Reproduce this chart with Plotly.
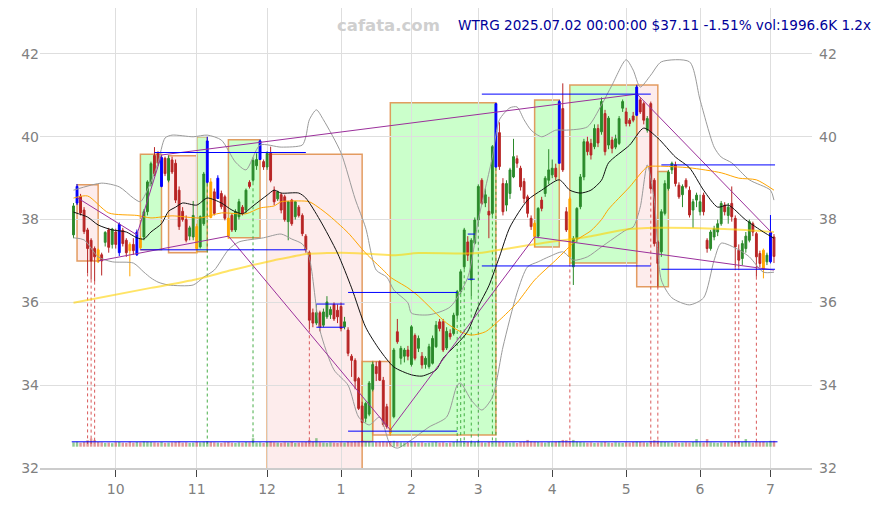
import plotly.graph_objects as go

# ---------------- data ----------------
month_tick_idx = [12, 35, 55, 76, 96, 115, 136, 157, 178, 198]
month_tick_text = ["10", "11", "12", "1", "2", "3", "4", "5", "6", "7"]
price_ticks = [32, 34, 36, 38, 40, 42]

opens = [37.63, 38.40, 38.56, 38.23, 37.75, 37.50, 37.30, 37.27, 37.15, 37.45,
         37.75, 37.40, 37.70, 37.20, 37.74, 37.50, 37.40, 37.40, 37.15, 37.54,
         37.58, 38.19, 38.87, 39.55, 39.60, 38.80, 39.48, 38.95, 39.44, 39.36,
         38.71, 38.20, 38.00, 37.60, 37.58, 37.83, 37.34, 37.90, 38.90, 38.91,
         38.67, 38.51, 38.63, 38.55, 38.03, 38.10, 37.75, 38.07, 38.30, 38.23,
         38.90, 38.95, 39.30, 39.45, 39.40, 39.27, 39.60, 38.71, 38.50, 38.60,
         38.55, 37.95, 38.47, 38.07, 38.30, 38.10, 37.60, 37.20, 35.75, 35.50,
         35.75, 35.45, 35.65, 35.70, 35.95, 35.81, 35.90, 35.41, 35.33, 34.70,
         34.60, 34.16, 33.50, 33.20, 33.30, 33.90, 34.45, 34.57, 34.12, 33.48,
         32.96, 33.24, 35.29, 34.65, 34.70, 34.85, 34.50, 35.20, 34.89, 34.70,
         34.50, 34.45, 34.53, 34.93, 35.53, 35.53, 34.90, 35.25, 35.25, 35.69,
         36.26, 36.86, 37.46, 36.54, 37.43, 37.99, 38.95, 38.40, 38.20, 38.15,
         39.27, 40.10, 38.87, 38.35, 38.63, 39.03, 39.47, 39.24, 38.92, 38.55,
         38.03, 37.91, 37.60, 38.47, 38.63, 38.95, 39.08, 39.24, 39.36, 40.68,
         38.19, 38.50, 36.86, 37.54, 38.31, 39.03, 39.88, 39.84, 39.76, 40.20,
         40.12, 40.56, 39.80, 39.92, 39.75, 39.84, 40.69, 40.60, 40.40, 40.50,
         40.52, 40.89, 40.80, 40.16, 40.80, 38.95, 37.46, 37.22, 38.15, 38.75,
         39.20, 39.32, 38.83, 38.60, 38.95, 38.71, 38.23, 38.47, 38.19, 38.59,
         37.50, 37.30, 37.58, 37.70, 37.90, 38.35, 38.10, 38.39, 38.03, 37.26,
         37.06, 37.30, 37.50, 37.90, 37.66, 37.18, 37.26, 36.98, 36.98, 37.58]
highs = [38.40, 38.86, 38.62, 38.30, 37.80, 37.55, 37.35, 37.30, 37.20, 37.72,
         37.80, 37.80, 37.78, 37.93, 37.80, 37.55, 37.45, 37.55, 37.76, 37.60,
         38.25, 38.95, 39.40, 39.75, 39.65, 39.56, 39.52, 39.55, 39.52, 39.45,
         38.80, 38.30, 38.10, 37.85, 38.45, 37.90, 38.10, 39.15, 40.00, 39.00,
         38.75, 39.07, 38.70, 38.60, 38.05, 38.15, 38.25, 38.50, 38.35, 38.75,
         38.95, 39.50, 39.60, 39.93, 39.45, 39.65, 39.76, 38.80, 38.70, 38.65,
         38.60, 38.45, 38.50, 38.45, 38.35, 38.15, 37.65, 37.25, 35.85, 35.95,
         35.80, 35.85, 36.15, 35.90, 36.00, 35.95, 36.00, 35.65, 35.40, 34.75,
         34.65, 34.20, 33.60, 33.60, 34.10, 34.57, 34.57, 34.60, 34.20, 33.55,
         33.05, 34.90, 35.60, 34.95, 34.90, 34.95, 35.45, 35.25, 35.20, 34.80,
         34.70, 35.00, 35.20, 35.55, 35.60, 35.60, 35.40, 35.35, 35.75, 36.30,
         36.80, 37.80, 37.60, 37.55, 38.05, 38.85, 39.00, 38.75, 38.55, 39.80,
         40.82, 40.35, 39.00, 38.95, 39.25, 39.95, 39.55, 39.30, 39.00, 38.60,
         38.10, 37.95, 38.30, 38.55, 39.05, 39.70, 39.45, 39.35, 40.89, 41.29,
         38.30, 38.55, 37.60, 38.30, 39.10, 39.95, 40.00, 39.95, 40.30, 40.30,
         40.95, 40.65, 40.50, 40.00, 40.05, 40.50, 40.90, 40.70, 40.45, 40.60,
         41.25, 40.95, 40.85, 40.50, 40.85, 39.00, 37.50, 38.25, 38.95, 39.20,
         39.40, 39.40, 38.90, 38.85, 39.00, 38.80, 38.50, 38.65, 38.60, 38.65,
         37.55, 37.75, 37.85, 38.00, 38.45, 38.42, 38.40, 38.80, 38.10, 37.40,
         37.50, 37.70, 38.00, 37.95, 37.70, 37.25, 37.30, 37.20, 38.11, 37.65]
lows = [37.55, 38.35, 38.10, 37.65, 36.70, 36.55, 36.50, 36.95, 36.65, 37.35,
        37.20, 37.30, 37.30, 37.12, 37.35, 37.10, 36.63, 37.15, 37.12, 37.28,
        37.50, 38.10, 38.80, 39.05, 39.30, 38.78, 39.05, 38.90, 39.10, 38.40,
        37.75, 37.95, 37.45, 37.50, 37.50, 37.18, 37.30, 37.85, 38.87, 38.03,
        38.10, 38.50, 38.25, 37.98, 37.54, 37.70, 37.70, 38.00, 38.10, 38.15,
        38.75, 38.90, 39.20, 39.45, 39.20, 39.20, 38.90, 38.35, 38.45, 38.15,
        37.95, 37.50, 37.85, 38.00, 38.05, 37.60, 37.20, 35.35, 35.40, 35.45,
        35.30, 35.40, 35.60, 35.60, 35.55, 35.50, 35.30, 35.35, 34.70, 34.20,
        33.90, 33.40, 32.64, 33.10, 33.25, 33.85, 34.10, 34.10, 33.00, 32.95,
        32.80, 33.20, 35.00, 34.50, 34.55, 34.60, 34.45, 34.60, 34.80, 34.40,
        34.40, 34.40, 34.50, 34.90, 35.30, 34.80, 34.85, 35.10, 35.20, 35.60,
        36.20, 36.80, 37.00, 36.14, 37.40, 37.90, 38.35, 38.30, 37.55, 38.10,
        39.25, 39.20, 38.10, 38.20, 38.50, 39.00, 39.25, 38.70, 38.40, 38.05,
        37.75, 37.35, 37.55, 38.20, 38.55, 38.85, 39.00, 38.95, 39.36, 39.15,
        37.70, 36.94, 36.42, 37.45, 38.25, 38.95, 39.55, 39.45, 39.70, 39.75,
        40.05, 39.55, 39.70, 39.60, 39.70, 39.80, 40.60, 40.25, 40.25, 40.35,
        40.50, 40.55, 40.30, 40.10, 38.70, 37.35, 36.38, 37.10, 38.10, 38.70,
        39.10, 38.80, 38.50, 38.30, 38.75, 38.05, 37.80, 38.30, 38.10, 38.10,
        37.20, 37.25, 37.50, 37.60, 37.85, 38.10, 37.90, 37.95, 36.85, 36.85,
        36.90, 37.20, 37.45, 37.60, 36.62, 36.85, 36.58, 36.90, 36.94, 36.95]
closes = [38.33, 38.80, 38.16, 37.71, 37.30, 37.00, 37.10, 36.98, 37.00, 37.69,
          37.33, 37.77, 37.40, 37.88, 37.42, 37.20, 37.25, 37.25, 37.70, 37.32,
          38.19, 38.91, 39.35, 39.10, 39.36, 39.50, 39.11, 39.48, 39.15, 38.47,
          37.83, 38.00, 37.50, 37.80, 38.10, 37.30, 38.07, 39.10, 39.90, 38.05,
          38.15, 39.00, 38.31, 38.03, 37.60, 37.75, 38.19, 38.43, 38.15, 38.71,
          38.80, 39.43, 39.45, 39.90, 39.27, 39.60, 38.95, 38.43, 38.67, 38.23,
          38.00, 38.43, 37.90, 38.43, 38.10, 37.66, 37.27, 35.57, 35.50, 35.75,
          35.40, 35.77, 36.01, 35.83, 35.60, 35.65, 35.37, 35.53, 34.77, 34.60,
          34.10, 33.44, 33.10, 33.56, 34.05, 34.50, 34.28, 34.12, 33.05, 33.00,
          32.85, 34.85, 35.05, 34.89, 34.85, 34.70, 35.41, 34.65, 35.13, 34.49,
          34.65, 34.93, 35.13, 35.45, 35.37, 34.85, 35.30, 35.17, 35.69, 36.26,
          36.74, 37.75, 37.14, 37.50, 37.99, 38.80, 38.39, 38.60, 38.11, 39.76,
          40.80, 39.28, 38.19, 38.87, 39.20, 39.52, 39.36, 38.79, 38.51, 38.15,
          37.83, 37.59, 38.27, 38.27, 39.00, 39.20, 39.24, 39.03, 40.85, 39.20,
          37.75, 37.10, 37.54, 38.27, 39.03, 39.88, 39.64, 39.56, 40.20, 39.85,
          40.85, 39.64, 40.45, 39.72, 39.95, 40.44, 40.85, 40.32, 40.32, 40.40,
          41.20, 40.60, 40.40, 40.44, 38.75, 37.42, 36.94, 38.19, 38.87, 39.15,
          39.36, 38.87, 38.55, 38.80, 38.79, 38.11, 38.43, 38.59, 38.43, 38.19,
          37.30, 37.70, 37.78, 37.90, 38.39, 38.19, 38.30, 38.07, 37.34, 37.02,
          37.42, 37.60, 37.95, 37.70, 37.10, 36.94, 36.80, 37.14, 37.68, 37.11]
volumes_k = [1500, 1700, 1400, 1600, 2200, 2800, 2300, 1600, 1500, 1300,
             1400, 1200, 1500, 1600, 1400, 1300, 1700, 1400, 1600, 1500,
             1800, 1700, 1600, 1500, 1400, 1600, 1300, 1400, 1500, 1600,
             1800, 1400, 1500, 1300, 1400, 1600, 1500, 1700, 1900, 1600,
             1500, 1400, 1300, 1500, 1600, 1400, 1300, 1500, 1400, 1600,
             1500, 2900, 1400, 1500, 1300, 1600, 1700, 1500, 1400, 1300,
             1500, 1400, 1600, 1300, 1400, 1500, 1600, 2300, 1700, 2900,
             1500, 1400, 1300, 1500, 1400, 1300, 1500, 1400, 1700, 1600,
             1800, 1900, 2100, 1700, 1600, 1500, 1600, 1700, 1800, 1600,
             1900, 2000, 1600, 1500, 1400, 1300, 1600, 1500, 1400, 1500,
             1300, 1400, 1500, 1600, 1400, 1500, 1300, 1400, 1600, 1700,
             1800, 1900, 1600, 1700, 1600, 1800, 1500, 1400, 1600, 1900,
             2000, 1700, 1600, 1500, 1400, 1500, 1300, 1600, 1700, 2300,
             1800, 1700, 1600, 1500, 1400, 1600, 1500, 1700, 1900, 2300,
             2200, 1900, 2300, 1700, 1600, 1500, 1400, 1500, 1300, 1400,
             1500, 1600, 1400, 1300, 1500, 1400, 1300, 1500, 1400, 1600,
             1700, 1600, 1500, 1400, 2000, 2200, 2100, 1700, 1600, 1500,
             1400, 1500, 1300, 1400, 1500, 1400, 1600, 2600, 1500, 1400,
             2600, 1500, 1400, 1300, 1500, 1400, 1500, 1600, 1900, 1800,
             1600, 2600, 1500, 1400, 1800, 1600, 1700, 1500, 2000, 1997]
avg_volume_k = 1663

swing_high_idx = [1, 13, 18, 25, 38, 41, 53, 120, 138, 160, 198]   # blue candles
swing_low_idx = [7, 16, 19, 35, 39, 44, 90, 131, 141, 196]         # orange candles

ma_black_idx = [0, 4, 7, 11, 15, 18, 20, 22, 25, 27, 29, 31, 35, 38, 42, 45, 48, 51, 55, 57,
                59, 64, 66, 70, 75, 79, 83, 87, 91, 96, 99, 103, 105, 110, 112, 115, 118, 121,
                124, 129, 133, 138, 141, 144, 147, 150, 152, 158, 162, 166, 171, 175, 179, 183,
                186, 191, 196, 199]
ma_black_val = [38.18, 38.06, 37.87, 37.75, 37.70, 37.56, 37.53, 37.70, 37.90, 38.20, 38.30,
                38.40, 38.35, 38.52, 38.40, 38.23, 38.14, 38.33, 38.59, 38.71, 38.64, 38.64,
                38.52, 37.99, 37.19, 36.35, 35.40, 34.85, 34.44, 34.25, 34.22, 34.37, 34.65,
                35.09, 35.30, 35.90, 36.40, 37.10, 37.82, 38.47, 38.71, 38.96, 38.71, 38.64,
                38.71, 38.95, 39.37, 39.80, 40.21, 39.97, 39.51, 39.25, 38.71, 38.30, 38.35,
                37.99, 37.70, 37.55]
ma_orange_idx = [0, 4, 10, 18, 22, 28, 36, 42, 49, 53, 57, 59, 64, 67, 72, 78, 83, 88, 90, 95,
                 98, 106, 110, 113, 117, 121, 126, 131, 137, 143, 147, 150, 152, 158, 163, 166,
                 175, 184, 189, 194, 199]
ma_orange_val = [38.52, 38.57, 38.16, 38.10, 38.04, 38.09, 38.04, 38.16, 38.14, 38.28, 38.33,
                 38.43, 38.45, 38.43, 38.14, 37.68, 37.19, 36.78, 36.61, 36.35, 36.15, 35.50,
                 35.29, 35.21, 35.29, 35.57, 35.99, 36.54, 37.02, 37.51, 37.73, 38.00, 38.25,
                 38.79, 39.27, 39.29, 39.25, 39.13, 39.00, 38.96, 38.71]
ma_yellow_idx = [0, 22, 34, 45, 57, 62, 66, 72, 76, 85, 91, 98, 115, 124, 133, 147, 156, 166,
                 185, 199]
ma_yellow_val = [35.99, 36.35, 36.54, 36.78, 37.02, 37.10, 37.17, 37.19, 37.20, 37.17, 37.14,
                 37.19, 37.19, 37.31, 37.43, 37.60, 37.75, 37.80, 37.77, 37.70]
band_up_idx = [0, 8, 13, 17, 19, 22, 24, 26, 28, 34, 38, 42, 46, 49, 53, 59, 65, 66, 67, 69,
               71, 76, 80, 83, 86, 89, 91, 95, 96, 101, 107, 112, 115, 119, 121, 124, 126, 128,
               130, 133, 137, 140, 146, 150, 153, 157, 159, 161, 164, 167, 175, 178, 182, 184,
               187, 192, 198, 199]
band_up_val = [38.71, 38.88, 38.79, 38.52, 38.43, 38.91, 39.37, 39.97, 40.04, 40.00, 40.04,
               39.92, 39.39, 39.20, 39.80, 39.75, 39.80, 40.00, 40.41, 40.65, 40.41, 39.61,
               38.50, 37.80, 36.78, 36.61, 36.30, 35.99, 35.74, 35.70, 35.89, 36.60, 37.99,
               39.51, 40.41, 40.70, 40.72, 40.41, 40.16, 40.00, 40.16, 40.16, 40.24, 40.77,
               41.25, 41.86, 41.61, 41.20, 41.49, 41.81, 41.81, 40.89, 39.75, 39.51, 39.37,
               38.96, 38.71, 38.47]
band_lo_idx = [0, 3, 7, 11, 17, 20, 22, 24, 27, 34, 37, 40, 44, 47, 54, 59, 62, 65, 67, 70,
               74, 78, 81, 84, 87, 90, 92, 96, 101, 106, 109, 110, 113, 116, 119, 122, 126, 129,
               132, 135, 139, 142, 146, 150, 157, 159, 161, 163, 165, 167, 170, 175, 179, 182,
               184, 189, 192, 196, 199]
band_lo_val = [37.56, 37.51, 37.10, 36.98, 36.95, 36.73, 36.59, 36.49, 36.42, 36.42, 36.61,
               36.78, 37.27, 37.46, 37.56, 37.65, 37.53, 37.41, 37.07, 35.33, 34.37, 34.00,
               33.23, 33.04, 33.23, 32.56, 32.48, 32.68, 32.99, 33.23, 34.00, 34.05, 33.64,
               33.40, 33.71, 34.92, 36.23, 36.86, 36.98, 37.10, 37.22, 37.02, 37.10, 37.34,
               37.75, 37.82, 38.30, 39.32, 38.47, 36.54, 36.11, 35.94, 36.11, 37.02, 37.43,
               37.27, 37.10, 36.73, 36.73]

# swing boxes: start idx, end idx, low, high, up-move?
box_start = [1, 19, 27, 35, 44, 55, 82, 85, 90, 131, 141, 160, 166]
box_end = [7, 25, 35, 38, 53, 82, 85, 90, 120, 138, 160, 166, 169]
box_low = [37.00, 37.27, 37.20, 37.22, 37.56, 31.50, 32.64, 32.80, 32.80, 37.34, 36.95, 36.38, 36.38]
box_high = [38.84, 39.58, 39.54, 40.00, 39.93, 39.58, 34.57, 34.57, 40.82, 40.89, 41.25, 41.25, 39.16]
box_up = [False, True, False, True, True, False, True, False, True, True, True, False, True]

# purple trend / zigzag segments
zz_x0 = [1, 18, 25, 7, 44, 90, 131, 160]
zz_y0 = [38.53, 37.63, 39.56, 37.00, 37.60, 32.92, 37.58, 41.04]
zz_x1 = [18, 25, 160, 44, 90, 131, 199, 198.5]
zz_y1 = [37.63, 39.56, 41.03, 37.60, 32.92, 37.58, 36.78, 37.67]

# blue horizontal levels
lvl_x0 = [23, 19, 78, 78, 69, 69, 116, 116, 167, 167, 112, 112]
lvl_x1 = [66, 66, 109, 109, 77, 77, 164, 164, 199.3, 199.3, 114, 114]
lvl_y = [39.62, 37.27, 36.24, 32.89, 35.96, 35.40, 41.03, 36.88, 39.32, 36.80, 37.65, 36.56]

# dotted signal lines
sig_red_idx = [4, 5, 6, 67, 141, 164, 166, 188, 189, 194]
sig_green_idx = [38, 51, 109, 110, 111, 113, 115, 119, 120]
sig_floor = 32.58

title_text = "WTRG 2025.07.02 00:00:00 $37.11 -1.51% vol:1996.6K 1.2x"
watermark = "cafata.com"

# ---------------- style ----------------
GREEN = "#2b8a2b"
RED = "#b82525"
BLUE = "#0000ff"
ORANGE = "#ffa500"
GRID = "#dedede"
FONT = "DejaVu Sans"
TICKFONT = dict(family=FONT, size=14, color="#808080")
K_PER_PX = 340.0
BASE_PX = 21.3
PLOT_H = 460.0
Y_RANGE = [32, 43.11]

n = len(closes)
fig = go.Figure()

# boxes
for s, e, lo, hi, up in zip(box_start, box_end, box_low, box_high, box_up):
    fig.add_shape(type="rect", xref="x", yref="y", x0=s, x1=e, y0=lo, y1=hi,
                  fillcolor="rgba(140,255,140,0.45)" if up else "rgba(245,170,170,0.22)",
                  line=dict(color="rgba(222,140,70,0.85)", width=1.5), layer="below")

# volume
vol_colors = ["rgba(60,160,60,0.55)" if c >= o else "rgba(200,70,70,0.55)" for o, c in zip(opens, closes)]
fig.add_trace(go.Bar(x=list(range(n)), y=volumes_k, marker=dict(color=vol_colors, line=dict(width=0)),
                     width=0.7, yaxis="y3", hoverinfo="skip"))
fig.add_trace(go.Scatter(x=[-0.5, n], y=[avg_volume_k, avg_volume_k], mode="lines",
                         line=dict(color=BLUE, width=1), yaxis="y3", hoverinfo="skip"))

# dotted signal lines
def vlines(idxs):
    xs, ys = [], []
    for i in idxs:
        xs += [i, i, None]
        ys += [lows[i], sig_floor, None]
    return xs, ys

xs, ys = vlines(sig_red_idx)
fig.add_trace(go.Scatter(x=xs, y=ys, mode="lines", line=dict(color="rgba(210,60,60,0.85)", width=1, dash="dot"),
                         hoverinfo="skip"))
xs, ys = vlines(sig_green_idx)
fig.add_trace(go.Scatter(x=xs, y=ys, mode="lines", line=dict(color="rgba(40,160,40,0.85)", width=1, dash="dot"),
                         hoverinfo="skip"))

# bands and moving averages
for ix, vals, col, w in [(band_up_idx, band_up_val, "#9a9a9a", 1),
                         (band_lo_idx, band_lo_val, "#9a9a9a", 1),
                         (ma_yellow_idx, ma_yellow_val, "rgba(255,210,0,0.6)", 2),
                         (ma_orange_idx, ma_orange_val, ORANGE, 1),
                         (ma_black_idx, ma_black_val, "#111111", 1)]:
    fig.add_trace(go.Scatter(x=ix, y=vals, mode="lines",
                             line=dict(color=col, width=w, shape="spline", smoothing=0.7),
                             hoverinfo="skip"))

# purple segments
px, py = [], []
for a, b, c, d in zip(zz_x0, zz_y0, zz_x1, zz_y1):
    px += [a, c, None]
    py += [b, d, None]
fig.add_trace(go.Scatter(x=px, y=py, mode="lines", line=dict(color="#9b309b", width=1), hoverinfo="skip"))

# candles
hi_set, lo_set = set(swing_high_idx), set(swing_low_idx)
def candles(idxs, inc_col, dec_col):
    return go.Candlestick(
        x=idxs, open=[opens[i] for i in idxs], high=[highs[i] for i in idxs],
        low=[lows[i] for i in idxs], close=[closes[i] for i in idxs],
        increasing=dict(line=dict(color=inc_col, width=1), fillcolor=inc_col),
        decreasing=dict(line=dict(color=dec_col, width=1), fillcolor=dec_col),
        whiskerwidth=0, hoverinfo="skip", showlegend=False)

normal = [i for i in range(n) if i not in hi_set and i not in lo_set]
fig.add_trace(candles(normal, GREEN, RED))
fig.add_trace(candles(swing_high_idx, BLUE, BLUE))
fig.add_trace(candles(swing_low_idx, ORANGE, ORANGE))

# blue levels
lx, ly = [], []
for a, b, y in zip(lvl_x0, lvl_x1, lvl_y):
    lx += [a, b, None]
    ly += [y, y, None]
fig.add_trace(go.Scatter(x=lx, y=ly, mode="lines", line=dict(color=BLUE, width=1), hoverinfo="skip"))

# right-hand axis carrier
fig.add_trace(go.Scatter(x=[0], y=[closes[0]], mode="markers", marker=dict(opacity=0), yaxis="y2",
                         hoverinfo="skip"))

fig.add_annotation(text=watermark, xref="paper", yref="paper", x=0.452, y=0.963,
                   xanchor="center", yanchor="middle", showarrow=False,
                   font=dict(family=FONT, size=16.5, color="#cfcfcf", weight="bold"))
fig.add_annotation(text=title_text, xref="paper", yref="paper", x=1.079, y=0.963,
                   xanchor="right", yanchor="middle", showarrow=False,
                   font=dict(family=FONT, size=13.6, color="#000099"))

# the page body adds an 8px margin, so the figure is 8px smaller each way
fig.update_layout(
    width=876, height=497, margin=dict(l=32, r=72, t=0, b=37),
    paper_bgcolor="white", plot_bgcolor="white", showlegend=False, boxgap=0.25,
    xaxis=dict(range=[-9.52, 209.8], tickmode="array", tickvals=month_tick_idx, ticktext=month_tick_text,
               showgrid=True, gridcolor=GRID, gridwidth=1, ticks="outside", ticklen=7, tickcolor="#444",
               showline=True, linecolor="#cccccc", linewidth=1.5, zeroline=False,
               rangeslider=dict(visible=False), tickfont=TICKFONT),
    yaxis=dict(range=Y_RANGE, tickmode="array", tickvals=price_ticks, showgrid=True, gridcolor=GRID,
               zeroline=False, showline=False, ticks="", tickfont=TICKFONT),
    yaxis2=dict(range=Y_RANGE, overlaying="y", side="right", tickmode="array", tickvals=price_ticks,
                showgrid=False, zeroline=False, showline=False, ticks="", tickfont=TICKFONT,
                ticklabelstandoff=6),
    yaxis3=dict(range=[-BASE_PX * K_PER_PX, (PLOT_H - BASE_PX) * K_PER_PX], overlaying="y",
                visible=False, showgrid=False, zeroline=False),
)

fig.write_html("out.html")
